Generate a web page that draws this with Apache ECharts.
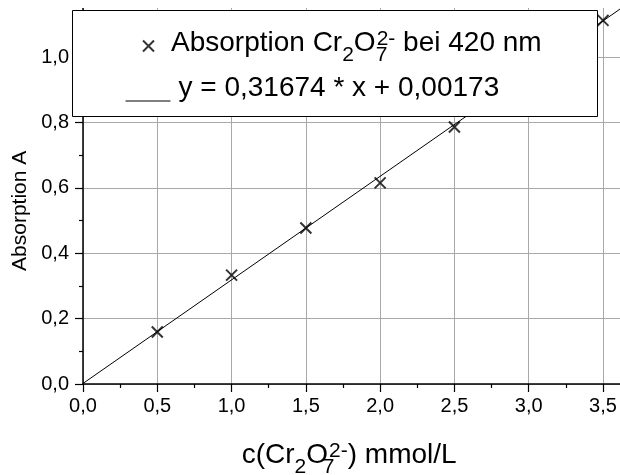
<!DOCTYPE html>
<html>
<head>
<meta charset="utf-8">
<script src="https://cdn.jsdelivr.net/npm/echarts@6/dist/echarts.min.js"></script>
<style>
html,body{margin:0;padding:0;background:#fff;}
#chart{width:620px;height:475px;}
</style>
</head>
<body>
<div id="chart"></div>
<script>
// ---- data ----
const concX = [0.5, 1.0, 1.5, 2.0, 2.5, 3.5];          // c(Cr2O7 2-) mmol/L
const absY  = [0.159, 0.333, 0.477, 0.615, 0.786, 1.112]; // Absorption A
const fitX  = [0, 3.7];                                 // fit line end points
const fitY  = [0.0017, 1.1737];
const xTicks = [0, 0.5, 1.0, 1.5, 2.0, 2.5, 3.0, 3.5];
const yTicks = [0, 0.2, 0.4, 0.6, 0.8, 1.0];
const seriesNames = ['Absorption', 'Fit'];

const FONT = '"Liberation Sans", Arial, Helvetica, sans-serif';
const rich = {
  g:  {fontFamily: FONT, fontSize: 10, lineHeight: 10, verticalAlign: 'top', width: 12},
  g2: {fontFamily: FONT, fontSize: 10, lineHeight: 10, verticalAlign: 'top', width: 3},
  m:  {fontFamily: FONT, fontSize: 28, lineHeight: 34, verticalAlign: 'top', color: '#000'},
  s:  {fontFamily: FONT, fontSize: 21, lineHeight: 20, verticalAlign: 'top', padding: [16, 0, 0, 0], color: '#000'},
  s0: {fontFamily: FONT, fontSize: 21, lineHeight: 20, verticalAlign: 'top', padding: [16, 0, 0, 0], width: 1, color: '#000'},
  u:  {fontFamily: FONT, fontSize: 21, lineHeight: 17, verticalAlign: 'top', color: '#000'},
  f:  {fontFamily: FONT, fontSize: 1, lineHeight: 54, verticalAlign: 'top', width: 1}
};

const fmt = v => v.toFixed(1).replace('.', ',');

const chart = echarts.init(document.getElementById('chart'), null, {renderer: 'canvas'});
chart.setOption({
  animation: false,
  backgroundColor: '#fff',
  grid: {left: 83, right: -57.3, top: -8.4, bottom: 91, containLabel: false, outerBoundsMode: 'none'},
  xAxis: {
    type: 'value', min: 0, max: 4, interval: 0.5,
    name: '{m|c(Cr}{s|2}{m|O}{s0|7}{u|2-}{m|) mmol/L}',
    nameLocation: 'middle', nameGap: 57,
    nameTextStyle: {rich: rich, padding: [0, 62, 0, 0]},
    axisLine: {show: true, lineStyle: {color: '#000', width: 1.5}},
    axisTick: {show: true, inside: false, length: 8, lineStyle: {color: '#000', width: 1.2}},
    minorTick: {show: true, splitNumber: 2, length: 4, lineStyle: {color: '#000', width: 1.2}},
    axisLabel: {formatter: v => xTicks.includes(v) ? fmt(v) : '', fontFamily: FONT, fontSize: 20, color: '#000', margin: 12},
    splitLine: {show: true, lineStyle: {color: '#a8a8a8', width: 1}}
  },
  yAxis: {
    type: 'value', min: 0, max: 1.2, interval: 0.2,
    name: 'Absorption A', nameLocation: 'middle', nameGap: 50,
    nameTextStyle: {fontFamily: FONT, fontSize: 21, color: '#000', padding: [0, 46, 0, 0]},
    axisLine: {show: true, lineStyle: {color: '#000', width: 1.5}},
    axisTick: {show: true, inside: false, length: 8, lineStyle: {color: '#000', width: 1.2}},
    minorTick: {show: true, splitNumber: 2, length: 4, lineStyle: {color: '#000', width: 1.2}},
    axisLabel: {formatter: v => yTicks.some(t => Math.abs(t - v) < 1e-9) ? fmt(v) : '', fontFamily: FONT, fontSize: 20, color: '#000', margin: 14},
    splitLine: {show: true, lineStyle: {color: '#a8a8a8', width: 1}}
  },
  legend: [
    {
      data: [seriesNames[0]], left: 142, top: 29, padding: 0, z: 60,
      itemWidth: 11, itemHeight: 11, selectedMode: false,
      formatter: () => '{g| }{m|Absorption Cr}{s|2}{m|O}{s0|7}{u|2-}{m| bei 420 nm}',
      textStyle: {rich: rich, color: '#000'}
    },
    {
      data: [seriesNames[1]], left: 125, top: 74, padding: 0, z: 60,
      itemWidth: 45, itemHeight: 12, selectedMode: false,
      itemStyle: {color: 'rgba(0,0,0,0)', borderWidth: 0, opacity: 0},
      lineStyle: {color: '#000', width: 1},
      formatter: () => '{g2| }{m|y = 0,31674 * x + 0,00173}{f| }',
      textStyle: {rich: rich, color: '#000'}
    }
  ],
  graphic: [
    {type: 'rect', z: 50, silent: true,
     shape: {x: 72.5, y: 10.5, width: 525, height: 106},
     style: {fill: '#fff', stroke: '#000', lineWidth: 1}},
    {type: 'rect', z: 40, silent: true,
     shape: {x: 0, y: 0, width: 620, height: 8},
     style: {fill: '#fff', stroke: null}}
  ],
  series: [
    {
      name: seriesNames[0], type: 'scatter', z: 5,
      data: concX.map((x, i) => [x, absY[i]]),
      symbol: 'path://M0,0L10,10M10,0L0,10', symbolSize: 11,
      itemStyle: {color: 'rgba(0,0,0,0)', borderColor: '#000', borderWidth: 2},
      emphasis: {disabled: true}
    },
    {
      name: seriesNames[1], type: 'line', z: 4,
      data: fitX.map((x, i) => [x, fitY[i]]),
      symbol: 'none', showSymbol: false,
      lineStyle: {color: '#000', width: 1},
      emphasis: {disabled: true}
    }
  ]
});
</script>
</body>
</html>
